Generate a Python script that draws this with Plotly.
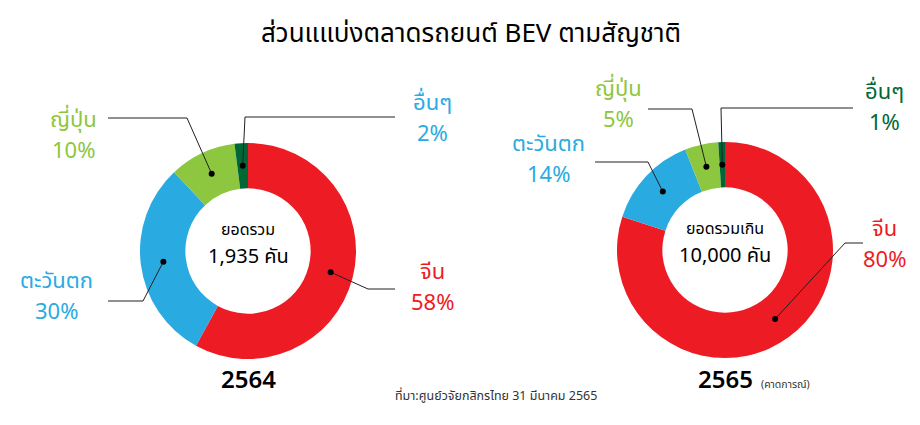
import math
import plotly.graph_objects as go

# ---------------- data ----------------
categories = ["จีน", "ตะวันตก", "ญี่ปุ่น", "อื่นๆ"]
share_2564 = [58, 30, 10, 2]
share_2565 = [80, 14, 5, 1]
year_labels = ["2564", "2565"]
total_top = ["ยอดรวม", "ยอดรวมเกิน"]
total_main = ["1,935 คัน", "10,000 คัน"]
forecast_note = "(คาดการณ์)"
title_text = "ส่วนแแบ่งตลาดรถยนต์ BEV ตามสัญชาติ"
source_text = "ที่มา:ศูนย์วจัยกสิกรไทย 31 มีนาคม 2565"

# ---------------- styles ----------------
OFF = 8            # browser default body margin
W, H = 912, 409
slice_colors = ["#ED1C24", "#29ABE2", "#8DC63F", "#006837"]
label_colors = [
    ["#ED1C24", "#29ABE2", "#8DC63F", "#29ABE2"],
    ["#ED1C24", "#29ABE2", "#8DC63F", "#006837"],
]
FONT = "Noto Sans Thai, Noto Sans, Tahoma, sans-serif"
LABEL_SIZE = 22
LINE_GAP = 31

centers = [(248, 251), (725, 250)]
R_OUT = 108
HOLE = 0.58
R_MID = R_OUT * (1 + HOLE) / 2

# label layout per chart (page pixels): bend point, end point, label centre x, label centre y
layouts = [
    [  # 2564
        dict(bend=(368, 289), end=(395, 289), lx=432, ly=288),
        dict(bend=(143, 301), end=(108, 301), lx=56, ly=297),
        dict(bend=(187, 118), end=(108, 118), lx=73, ly=136),
        dict(bend=(245, 117), end=(395, 117), lx=432, ly=119),
    ],
    [  # 2565
        dict(bend=(845, 243), end=(863, 243), lx=884, ly=245),
        dict(bend=(648, 162), end=(595, 162), lx=548, ly=160),
        dict(bend=(692, 109), end=(648, 109), lx=618, ly=105),
        dict(bend=(721, 108), end=(853, 108), lx=884, ly=108),
    ],
]


def px(x):
    return (x - OFF) / W


def py(y):
    return 1 - (y - OFF) / H


def txt(x, y, s, size, color, xanchor="center", weight=None):
    f = dict(size=size, color=color, family=FONT)
    if weight:
        f["weight"] = weight
    return dict(x=px(x), y=py(y), xref="paper", yref="paper", text=s,
                showarrow=False, xanchor=xanchor, yanchor="middle", font=f)


fig = go.Figure()
shapes = []
annotations = []

for i, vals in enumerate([share_2564, share_2565]):
    cx, cy = centers[i]
    fig.add_trace(go.Pie(
        labels=categories,
        values=vals,
        hole=HOLE,
        sort=False,
        direction="clockwise",
        rotation=0,
        marker=dict(colors=slice_colors, line=dict(width=0)),
        textinfo="none",
        hoverinfo="label+percent",
        showlegend=False,
        domain=dict(x=[px(cx - R_OUT), px(cx + R_OUT)],
                    y=[py(cy + R_OUT), py(cy - R_OUT)]),
    ))
    total = sum(vals)
    cum = 0
    for j, v in enumerate(vals):
        mid = (cum + v / 2) / total * 2 * math.pi
        cum += v
        dx = cx + R_MID * math.sin(mid)
        dy = cy - R_MID * math.cos(mid)
        lay = layouts[i][j]
        bx, by = lay["bend"]
        ex, ey = lay["end"]
        path = f"M {px(dx)} {py(dy)} L {px(bx)} {py(by)} L {px(ex)} {py(ey)}"
        shapes.append(dict(type="path", xref="paper", yref="paper", path=path,
                           line=dict(color="#231F20", width=1)))
        shapes.append(dict(type="circle", xref="paper", yref="paper",
                           xsizemode="pixel", ysizemode="pixel",
                           xanchor=px(dx), yanchor=py(dy),
                           x0=-3, x1=3, y0=-3, y1=3,
                           fillcolor="#000000", line=dict(width=0)))
        col = label_colors[i][j]
        pct = f"{round(v / total * 100)}%"
        annotations.append(txt(lay["lx"], lay["ly"] - LINE_GAP / 2, categories[j], LABEL_SIZE, col))
        annotations.append(txt(lay["lx"], lay["ly"] + LINE_GAP / 2, pct, LABEL_SIZE, col))
    # centre texts
    annotations.append(txt(cx, cy - 21, total_top[i], 16, "#000"))
    annotations.append(txt(cx, cy + 6, total_main[i], 20, "#000"))
    # year
    annotations.append(txt(cx, 381, year_labels[i], 24, "#000", weight=600))

annotations.append(txt(759, 385, forecast_note, 10.5, "#333", xanchor="left"))
annotations.append(txt(496, 396, source_text, 12.5, "#333"))
annotations.append(txt(471, 34, title_text, 26, "#000"))

fig.update_layout(
    width=W, height=H,
    margin=dict(l=0, r=0, t=0, b=0),
    paper_bgcolor="#FFFFFF",
    plot_bgcolor="#FFFFFF",
    shapes=shapes,
    annotations=annotations,
)

fig.write_html("out.html")
